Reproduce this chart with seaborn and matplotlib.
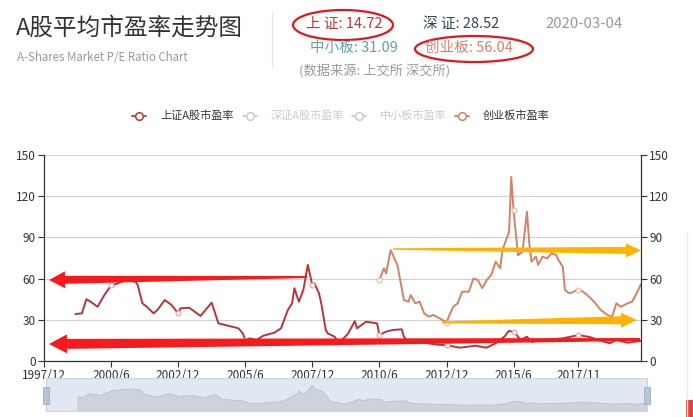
import numpy as np
import pandas as pd
import matplotlib
matplotlib.use("Agg")
import matplotlib.pyplot as plt
from matplotlib.patches import Polygon, Ellipse, Rectangle
from matplotlib.lines import Line2D
import seaborn as sns

# 上证A股市盈率
sh_dates = ["1999-02", "1999-05", "1999-07", "1999-09", "1999-12", "2000-03", "2000-06", "2000-09",
            "2000-12", "2001-05", "2001-06", "2001-08", "2001-10", "2002-01", "2002-03", "2002-06",
            "2002-09", "2002-12", "2003-01", "2003-05", "2003-10", "2004-03", "2004-06", "2004-09",
            "2004-12", "2005-03", "2005-05", "2005-06", "2005-08", "2005-11", "2006-02", "2006-07",
            "2006-10", "2007-01", "2007-03", "2007-04", "2007-06", "2007-08", "2007-10", "2007-12",
            "2008-01", "2008-03", "2008-04", "2008-06", "2008-07", "2008-10", "2008-11", "2009-01",
            "2009-04", "2009-07", "2009-08", "2009-10", "2009-12", "2010-03", "2010-05", "2010-06",
            "2010-09", "2010-12", "2011-04", "2011-05", "2011-06", "2011-12", "2012-07", "2012-12",
            "2013-06", "2014-01", "2014-06", "2014-10", "2015-02", "2015-04", "2015-06", "2015-07",
            "2015-09", "2015-12", "2016-02", "2016-07", "2017-04", "2017-11", "2018-04", "2018-08",
            "2019-01", "2019-04", "2019-09", "2020-03"]
sh_pe = [34.2, 34.7, 45, 43, 39.5, 48, 55, 56.5,
         59, 57.7, 55, 42, 39.5, 34.7, 37.6, 44.4,
         40.8, 34.7, 38.4, 38.8, 32.8, 42.5, 27.4, 26.2,
         25, 23.8, 20, 15.3, 16.5, 15.3, 18.4, 20.6,
         23.8, 37, 42, 53, 43.2, 51.7, 70, 55.3,
         56.5, 49.2, 42, 22.6, 20, 17.7, 14.8, 14.8,
         20, 29, 23.8, 26.2, 28.6, 27.9, 27.4, 18.9,
         21.4, 22.6, 23.1, 17.7, 15.3, 14, 12, 11.5,
         9.7, 11.1, 9.7, 12.9, 18, 22, 21, 20,
         15.3, 17.7, 14, 15.3, 16.5, 18.9, 17.5, 15.3,
         12.9, 15.3, 13.3, 14.72]

# 创业板市盈率
cy_dates = ["2010-06", "2010-08", "2010-09", "2010-11", "2011-01", "2011-02", "2011-05", "2011-07",
            "2011-08", "2011-10", "2011-12", "2012-02", "2012-04", "2012-06", "2012-09", "2012-12",
            "2013-01", "2013-03", "2013-05", "2013-07", "2013-10", "2013-12", "2014-02", "2014-04",
            "2014-06", "2014-08", "2014-10", "2014-12", "2015-01", "2015-04", "2015-05", "2015-06",
            "2015-08", "2015-10", "2015-12", "2016-01", "2016-02", "2016-04", "2016-05", "2016-07",
            "2016-09", "2016-11", "2017-01", "2017-02", "2017-04", "2017-05", "2017-07", "2017-11",
            "2018-01", "2018-03", "2018-06", "2018-09", "2018-12", "2019-02", "2019-04", "2019-06",
            "2019-09", "2019-11", "2020-01", "2020-03"]
cy_pe = [59, 67.5, 63.8, 80.8, 73.5, 70, 44.4, 43.2,
         48, 42, 43.2, 34.7, 32.3, 33.5, 31, 28,
         32.3, 39.5, 42, 50.5, 50.5, 60, 59, 53,
         59, 62.6, 72.3, 67.5, 80.8, 94, 134, 110,
         77, 79.6, 108.7, 85.7, 72.3, 76, 70, 76,
         74.7, 78.4, 77.2, 73.5, 68.7, 51.7, 49.2, 52,
         50.5, 48, 43.2, 37.1, 33.5, 32.3, 42, 39.5,
         42, 43.2, 49.2, 56.04]

tick_labels = ["1997/12", "2000/6", "2002/12", "2005/6", "2007/12", "2010/6", "2012/12", "2015/6", "2017/11"]
x_start, x_end = "1997-12", "2020-03"
y_ticks = [0, 30, 60, 90, 120, 150]

legend_names = ["上证A股市盈率", "深证A股市盈率", "中小板市盈率", "创业板市盈率"]
legend_on = [True, False, False, True]
quote_names = ["上 证", "深 证", "中小板", "创业板"]
quote_values = [14.72, 28.52, 31.09, 56.04]
quote_date = "2020-03-04"

colors = ["#c23531", "#2f4554", "#61a0a8", "#d48265"]

sns.set_style("white")
plt.rcParams["font.family"] = ["Noto Sans CJK SC", "DejaVu Sans"]

W, H = 693, 417
fig = plt.figure(figsize=(W / 100, H / 100), dpi=100)
ax = fig.add_axes([44 / W, 1 - 361 / H, 597 / W, 206 / H])

sh = pd.DataFrame({"date": pd.to_datetime(sh_dates, format="%Y-%m"), "pe": sh_pe})
cy = pd.DataFrame({"date": pd.to_datetime(cy_dates, format="%Y-%m"), "pe": cy_pe})
ticks = pd.to_datetime(tick_labels, format="%Y/%m")

sh_marks = [i for i, d in enumerate(sh["date"]) if d in set(ticks)]
cy_marks = [i for i, d in enumerate(cy["date"]) if d in set(ticks)]

sns.lineplot(data=sh, x="date", y="pe", ax=ax, color="#b8343a", lw=1.4,
             marker="o", markevery=sh_marks, ms=3.5, mfc="white", mec="#e8a0a0", mew=0.8)
sns.lineplot(data=cy, x="date", y="pe", ax=ax, color=colors[3], lw=1.4,
             marker="o", markevery=cy_marks, ms=3.5, mfc="white", mec="#ecb8a4", mew=0.8)

ax.set_xlim(pd.Timestamp(x_start), pd.Timestamp(x_end))
ax.set_ylim(0, 150)
ax.set_xticks(ticks)
ax.set_xticklabels(tick_labels)
ax.set_yticks(y_ticks)
ax.set_xlabel("")
ax.set_ylabel("")
ax.grid(axis="y", color="#d0d0d0", lw=0.8)
ax.grid(axis="x", visible=False)
ax.tick_params(axis="both", direction="out", length=4, width=0.8, color="#333333",
               labelsize=8.5, labelcolor="#333333", pad=2)
ax.tick_params(axis="y", left=True, right=True, labelleft=True, labelright=True)
ax.tick_params(axis="x", bottom=True)
for side in ["left", "right", "bottom"]:
    ax.spines[side].set_color("#333333")
    ax.spines[side].set_linewidth(0.9)
ax.spines["top"].set_visible(False)

# data zoom slider
zx = fig.add_axes([46 / W, 1 - 411 / H, 601 / W, 33 / H])
zx.set_facecolor("#e2e8f1")
zx.fill_between(sh["date"], sh["pe"], -20, color="#cdd3dc", lw=0.6, edgecolor="#bcc2cc")
zx.set_xlim(pd.Timestamp(x_start), pd.Timestamp(x_end))
zx.set_ylim(-9, 91)
zx.set_xticks([])
zx.set_yticks([])
for s in zx.spines.values():
    s.set_color("#ccd4df")
    s.set_linewidth(0.8)

# overlay in pixel coordinates for header, legend and the hand drawn marks
ov = fig.add_axes([0, 0, 1, 1], zorder=10)
ov.set_xlim(0, W)
ov.set_ylim(H, 0)
ov.axis("off")
ov.patch.set_alpha(0)

ov.text(16, 28, "A股平均市盈率走势图", fontsize=17, color="#333333", va="center", ha="left")
ov.text(17, 57, "A-Shares Market P/E Ratio Chart", fontsize=8.3, color="#999999", va="center", ha="left")
ov.plot([272, 272], [12, 67], color="#e6e6e6", lw=1)

ov.text(306, 24, f"{quote_names[0]}: {quote_values[0]}", fontsize=10.5, color=colors[0], va="center")
ov.text(423, 24, f"{quote_names[1]}: {quote_values[1]}", fontsize=10.5, color=colors[1], va="center")
ov.text(545, 24, quote_date, fontsize=10.8, color="#999999", va="center")
ov.text(310, 48, f"{quote_names[2]}: {quote_values[2]}", fontsize=10.5, color=colors[2], va="center")
ov.text(425, 48, f"{quote_names[3]}: {quote_values[3]}", fontsize=10.5, color=colors[3], va="center")
ov.text(299, 72, "(数据来源: 上交所 深交所)", fontsize=9.5, color="#999999", va="center")

ov.add_patch(Ellipse((343, 25), 100, 30, fill=False, ec="#e3161c", lw=1.6))
ov.add_patch(Ellipse((474, 49), 118, 26, fill=False, ec="#e3161c", lw=1.6))

# legend
leg_x = [132, 243, 352, 455]
for x0, name, on, c in zip(leg_x, legend_names, legend_on, colors):
    col = c if on else "#cccccc"
    ov.add_line(Line2D([x0, x0 + 14], [116, 116], color=col, lw=1.3))
    ov.add_line(Line2D([x0 + 7], [116], marker="o", ms=5.5, mfc="white", mec=col, mew=1.1))
    ov.text(x0 + 28, 116, name, fontsize=8, color="#333333" if on else "#cccccc", va="center")


def taper_arrow(tail, tip, w_tail, w_neck, head_len, head_w, color):
    tail = np.array(tail, float)
    tip = np.array(tip, float)
    d = (tip - tail) / np.linalg.norm(tip - tail)
    p = np.array([-d[1], d[0]])
    neck = tip - d * head_len
    pts = [tail + p * w_tail / 2, neck + p * w_neck / 2, neck + p * head_w / 2, tip,
           neck - p * head_w / 2, neck - p * w_neck / 2, tail - p * w_tail / 2]
    ov.add_patch(Polygon(pts, closed=True, fc=color, ec="none"))


taper_arrow((307, 277), (49, 280), 2, 8, 16, 17, "#f61a1c")
taper_arrow((640, 339.5), (49, 344), 3, 10, 18, 19, "#f61a1c")
taper_arrow((393, 249), (641, 250.5), 1.5, 7, 15, 14, "#ffb300")
taper_arrow((442, 322.5), (637, 320), 2, 8, 16, 15, "#ffb300")

# slider handles and page edge bits
for hx in [46, 647]:
    ov.add_patch(Rectangle((hx - 3, 387), 6, 17, fc="#b8c5d8", ec="#9fb0c8", lw=0.6))
ov.plot([687, 687], [232, 417], color="#eeeeee", lw=1)
ov.add_patch(Rectangle((686, 400), 7, 17, fc="#dd4444", ec="none"))

fig.savefig("out.png", dpi=100)
